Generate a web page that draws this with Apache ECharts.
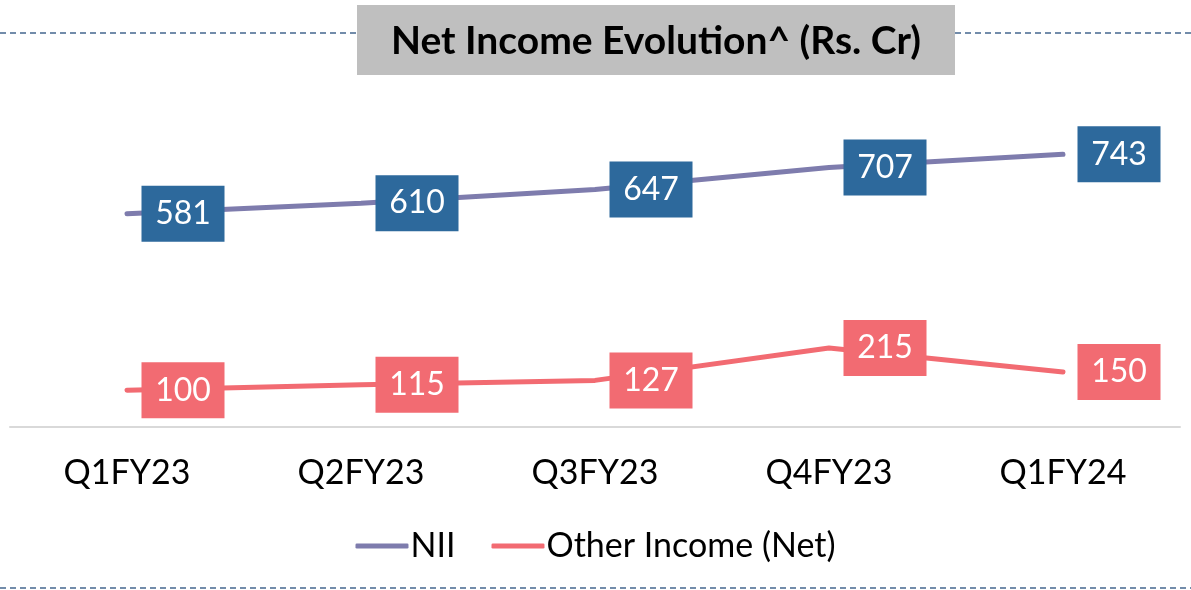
<!DOCTYPE html>
<html>
<head>
    <meta charset="UTF-8">
    <script src="https://cdn.jsdelivr.net/npm/echarts@6/dist/echarts.min.js"></script>
    <title>Net Income Evolution</title>
</head>
<body style="margin:0;background:#fff;">
    <div id="box" style="width:1191px;height:590px;"></div>
    <script>
        // data
        var quarters = ['Q1FY23', 'Q2FY23', 'Q3FY23', 'Q4FY23', 'Q1FY24']
        var nii = [581, 610, 647, 707, 743]
        var otherIncome = [100, 115, 127, 215, 150]

        var font = 'Lato'
        var dash = '#44678f'

        var mychart = echarts.init(document.getElementById('box'))

        // 数值框标签
        function boxLabel(bg) {
            return {
                show: true,
                position: 'inside',
                offset: [56, 0],
                backgroundColor: bg,
                color: '#fff',
                fontFamily: font,
                fontSize: 32,
                width: 83,
                height: 56,
                lineHeight: 58,
                align: 'center',
                verticalAlign: 'middle'
            }
        }

        var option = {
            animation: false,
            grid: { left: 10, right: 11, top: 60, bottom: 163 },
            /* 标题框 + 虚线 */
            graphic: [
                { type: 'line', shape: { x1: 0, y1: 33, x2: 357, y2: 33 }, style: { stroke: dash, lineWidth: 1.5, lineDash: [6, 4] } },
                { type: 'line', shape: { x1: 955, y1: 33, x2: 1191, y2: 33 }, style: { stroke: dash, lineWidth: 1.5, lineDash: [6, 4] } },
                { type: 'line', shape: { x1: 0, y1: 588, x2: 1191, y2: 588 }, style: { stroke: dash, lineWidth: 1.5, lineDash: [6, 4] } },
                { type: 'rect', shape: { x: 357, y: 5, width: 598, height: 70 }, style: { fill: '#bfbfbf' } },
                {
                    type: 'text', x: 656, y: 41,
                    style: {
                        text: 'Net Income Evolution^ (Rs. Cr)', fill: '#000', font: 'bold 39px Lato',
                        align: 'center', verticalAlign: 'middle'
                    }
                }
            ],
            legend: {
                top: 524,
                left: 'center',
                icon: 'roundRect',
                itemWidth: 53,
                itemHeight: 5,
                itemGap: 36,
                textStyle: { color: '#000', fontSize: 34, fontFamily: font, padding: [0, 0, 0, -3] },
                data: ['NII', 'Other Income (Net)']
            },
            xAxis: {
                type: 'category',
                data: quarters,
                axisLine: { lineStyle: { color: '#d9d9d9', width: 2 } },
                axisTick: { show: false },
                axisLabel: { color: '#000', fontSize: 34, fontFamily: font, margin: 29 }
            },
            yAxis: {
                type: 'value',
                min: 0,
                max: 1000,
                show: false,
                splitLine: { show: false }
            },
            series: [
                {
                    name: 'NII',
                    type: 'line',
                    data: nii,
                    symbol: 'circle',
                    symbolSize: 1,
                    lineStyle: { color: '#7e7cad', width: 5, cap: 'round' },
                    itemStyle: { color: '#7e7cad' },
                    label: boxLabel('#2d699c')
                },
                {
                    name: 'Other Income (Net)',
                    type: 'line',
                    data: otherIncome,
                    symbol: 'circle',
                    symbolSize: 1,
                    lineStyle: { color: '#f26b72', width: 5, cap: 'round' },
                    itemStyle: { color: '#f26b72' },
                    label: boxLabel('#f26b72')
                }
            ]
        }

        mychart.setOption(option)
    </script>
</body>
</html>
